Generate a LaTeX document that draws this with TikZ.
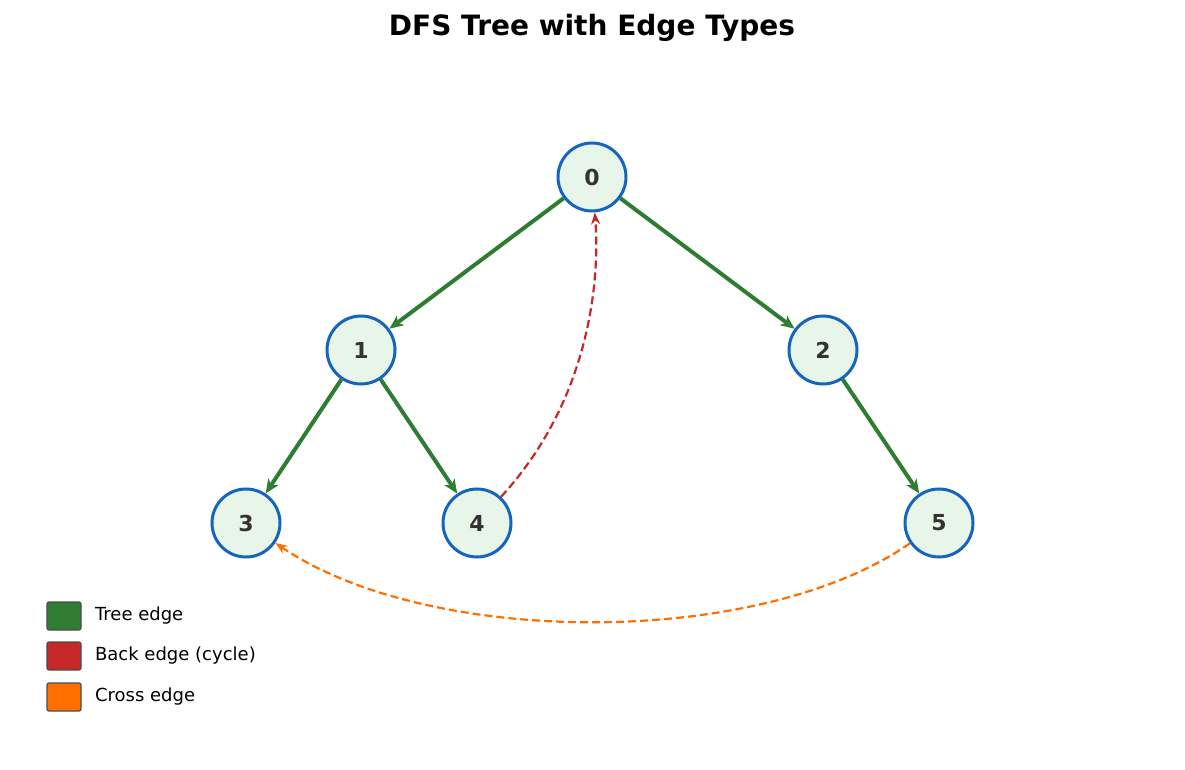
\documentclass[tikz,border=0pt]{standalone}
\usepackage{fontspec}
\setmainfont{DejaVu Sans}
\usetikzlibrary{arrows.meta}
\definecolor{treeC}{HTML}{2E7D32}
\definecolor{backC}{HTML}{C62828}
\definecolor{crossC}{HTML}{FF6F00}
\definecolor{nodeF}{HTML}{E8F5E9}
\definecolor{nodeB}{HTML}{1565C0}
\definecolor{txtC}{HTML}{333333}
\tikzset{
  vtx/.style={circle,draw=nodeB,fill=nodeF,line width=1.5pt,minimum size=34pt,inner sep=0pt,font=\fontsize{11}{13}\selectfont\bfseries,text=txtC},
  tree/.style={draw=treeC,line width=2pt,-{Stealth[length=7pt,width=6pt,inset=2pt]}},
  back/.style={draw=backC,line width=1.1pt,dash pattern=on 4pt off 2pt,-{Stealth[length=6pt,open]}},
  cross/.style={draw=crossC,line width=1.1pt,dash pattern=on 4pt off 2pt,-{Stealth[length=6pt,open]}},
  patch/.style={draw=black!70,line width=0.6pt,rounded corners=1pt,minimum width=17pt,minimum height=14pt,inner sep=0pt},
  lbl/.style={anchor=west,font=\fontsize{9}{11}\selectfont}
}
\begin{document}
\begin{tikzpicture}[x=0.5pt,y=-0.5pt]
\useasboundingbox (0,0) rectangle (1185,770);
\node[font=\fontsize{14}{16}\selectfont\bfseries] (title) at (592,28) {DFS Tree with Edge Types};
% vertices
\node[vtx] (n0) at (592,177) {0};
\node[vtx] (n1) at (361,350) {1};
\node[vtx] (n2) at (823,350) {2};
\node[vtx] (n3) at (246,523) {3};
\node[vtx] (n4) at (477,523) {4};
\node[vtx] (n5) at (939,523) {5};
% tree edges
\draw[tree] (n0) -- (n1);
\draw[tree] (n0) -- (n2);
\draw[tree] (n1) -- (n3);
\draw[tree] (n1) -- (n4);
\draw[tree] (n2) -- (n5);
% back and cross edges
\draw[back] (n4) .. controls (590,400) and (600,280) .. (n0);
\draw[cross] (n5) .. controls (760,648) and (430,648) .. (n3);
% legend
\node[patch,fill=treeC] (k1) at (64,616) {};
\node[patch,fill=backC] (k2) at (64,656) {};
\node[patch,fill=crossC] (k3) at (64,697) {};
\node[lbl] at (88,616) {Tree edge};
\node[lbl] at (88,656) {Back edge (cycle)};
\node[lbl] at (88,697) {Cross edge};
\end{tikzpicture}
\end{document}
